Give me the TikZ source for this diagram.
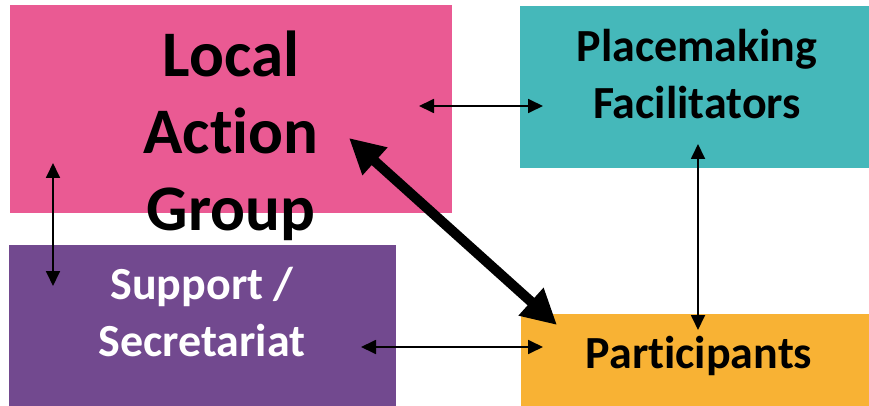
\documentclass[tikz,border=0pt]{standalone}
\usepackage{fontspec}
\setmainfont{Carlito}[Ligatures={NoCommon,NoRequired,NoContextual}]
\usepackage{xcolor}
\usetikzlibrary{arrows.meta,positioning}

\definecolor{lagpink}{RGB}{234,90,147}
\definecolor{pmfteal}{RGB}{69,184,186}
\definecolor{suppurple}{RGB}{114,73,143}
\definecolor{parorange}{RGB}{248,178,52}

\begin{document}
\begin{tikzpicture}
          [x=1pt,y=-1pt,semithick]
          \tikzstyle{box}=[draw=none,inner sep=0pt,anchor=north west]
          \tikzstyle{boxtext}=[align=center,inner sep=0pt,font=\bfseries\fontsize{46}{57}\selectfont]
          \tikzstyle{link}=[{Triangle[length=15pt,width=14pt]}-{Triangle[length=15pt,width=14pt]},line width=1.8pt]

          \useasboundingbox (0,0) rectangle (869,406);

          % boxes
          \node[box,fill=lagpink,minimum width=442pt,minimum height=208pt] (lag) at (10,5) {};
          \node[box,fill=pmfteal,minimum width=349pt,minimum height=162pt] (pmf) at (520,6) {};
          \node[box,fill=suppurple,minimum width=387pt,minimum height=161pt] (sup) at (9,245) {};
          \node[box,fill=parorange,minimum width=348pt,minimum height=92pt] (par) at (521,314) {};

          % texts
          \node[boxtext,font=\bfseries\fontsize{65}{77}\selectfont] (lagtext) at (231,136) {Local\\Action\\Group};
          \node[boxtext] (pmftext) at (697,74) {Placemaking\\Facilitators};
          \node[boxtext,text=white] (suptext) at (202,312) {Support /\\Secretariat};
          \node[boxtext,anchor=base] (partext) at (699,368) {Participants};

          % arrow ends
          \coordinate (lagE) at (419,106);
          \coordinate (pmfW) at (543,106);
          \coordinate (lagS) at (53,163);
          \coordinate (supN) at (53,286);
          \coordinate (pmfS) at (698,144);
          \coordinate (parN) at (698,330);
          \coordinate (supE) at (361,347);
          \coordinate (parW) at (543,347);
          \coordinate (lagSE) at (349,138);
          \coordinate (parNW) at (557,325);

          \path[link]
          (lagE) edge (pmfW)
          (lagS) edge (supN)
          (pmfS) edge (parN)
          (supE) edge (parW)
          ;
          \draw[line width=10pt,{Triangle[length=35pt,width=35pt]}-{Triangle[length=35pt,width=35pt]}] (lagSE) -- (parNW);
        \end{tikzpicture}
\end{document}
